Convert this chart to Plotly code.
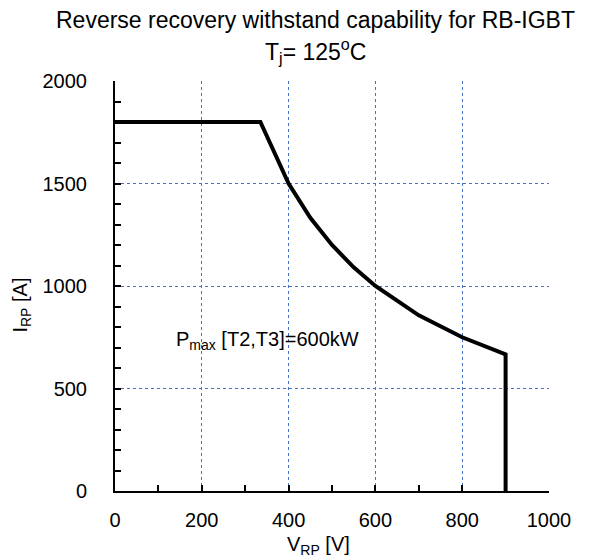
import plotly.graph_objects as go

# Reverse recovery withstand capability curve (Pmax = 600 kW)
v_rp = [0, 335, 400, 450, 500, 550, 600, 700, 800, 900, 900]
i_rp = [1800, 1800, 1500, 1333, 1200, 1091, 1000, 857, 750, 667, 0]

x_ticks = [0, 200, 400, 600, 800, 1000]
y_ticks = [0, 500, 1000, 1500, 2000]

grid_color = '#4472C4'
font_family = 'Liberation Sans, Arial, sans-serif'

fig = go.Figure()

fig.add_trace(go.Scatter(x=v_rp, y=i_rp, mode='lines',
                         line=dict(color='black', width=4), showlegend=False))

# label inside the plot
fig.add_annotation(x=135, y=735, xanchor='left', yanchor='middle',
                   text='P<sub>max</sub> [T2,T3]=600kW', showarrow=False,
                   font=dict(size=20, color='black'))

# title lines
fig.add_annotation(x=0.463, y=1.148, xref='paper', yref='paper',
                   xanchor='center', yanchor='middle', showarrow=False,
                   text='Reverse recovery withstand capability for RB-IGBT',
                   font=dict(size=23))
fig.add_annotation(x=0.463, y=1.074, xref='paper', yref='paper',
                   xanchor='center', yanchor='middle', showarrow=False,
                   text='T<sub>j</sub>= 125<sup>o</sup>C',
                   font=dict(size=23))

# axis titles
fig.add_annotation(x=0.47, y=-0.134, xref='paper', yref='paper',
                   xanchor='center', yanchor='middle', showarrow=False,
                   text='V<sub>RP</sub> [V]', font=dict(size=20))
fig.add_annotation(x=-0.215, y=0.454, xref='paper', yref='paper',
                   xanchor='center', yanchor='middle', showarrow=False,
                   textangle=-90, text='I<sub>RP</sub> [A]', font=dict(size=20))

fig.update_layout(
    width=584, height=552,
    margin=dict(l=107, r=43, t=73, b=69),
    paper_bgcolor='white', plot_bgcolor='white',
    font=dict(family=font_family, size=20, color='black'),
    xaxis=dict(range=[0, 1000], tickvals=x_ticks, showgrid=True,
               gridcolor=grid_color, griddash='dot', gridwidth=1,
               showline=True, linecolor='black', linewidth=2,
               ticks='inside', ticklen=6, tickcolor='black', tickwidth=1.5,
               ticklabelstandoff=10,
               minor=dict(ticks='inside', ticklen=6, dtick=100, tickcolor='black', showgrid=False),
               zeroline=False),
    yaxis=dict(range=[0, 2000], tickvals=y_ticks, showgrid=True,
               gridcolor=grid_color, griddash='dot', gridwidth=1,
               showline=True, linecolor='black', linewidth=2,
               ticks='inside', ticklen=6, tickcolor='black', tickwidth=1.5,
               ticklabelstandoff=22,
               minor=dict(ticks='inside', ticklen=6, dtick=100, tickcolor='black', showgrid=False),
               zeroline=False),
)

fig.write_html("out.html")
